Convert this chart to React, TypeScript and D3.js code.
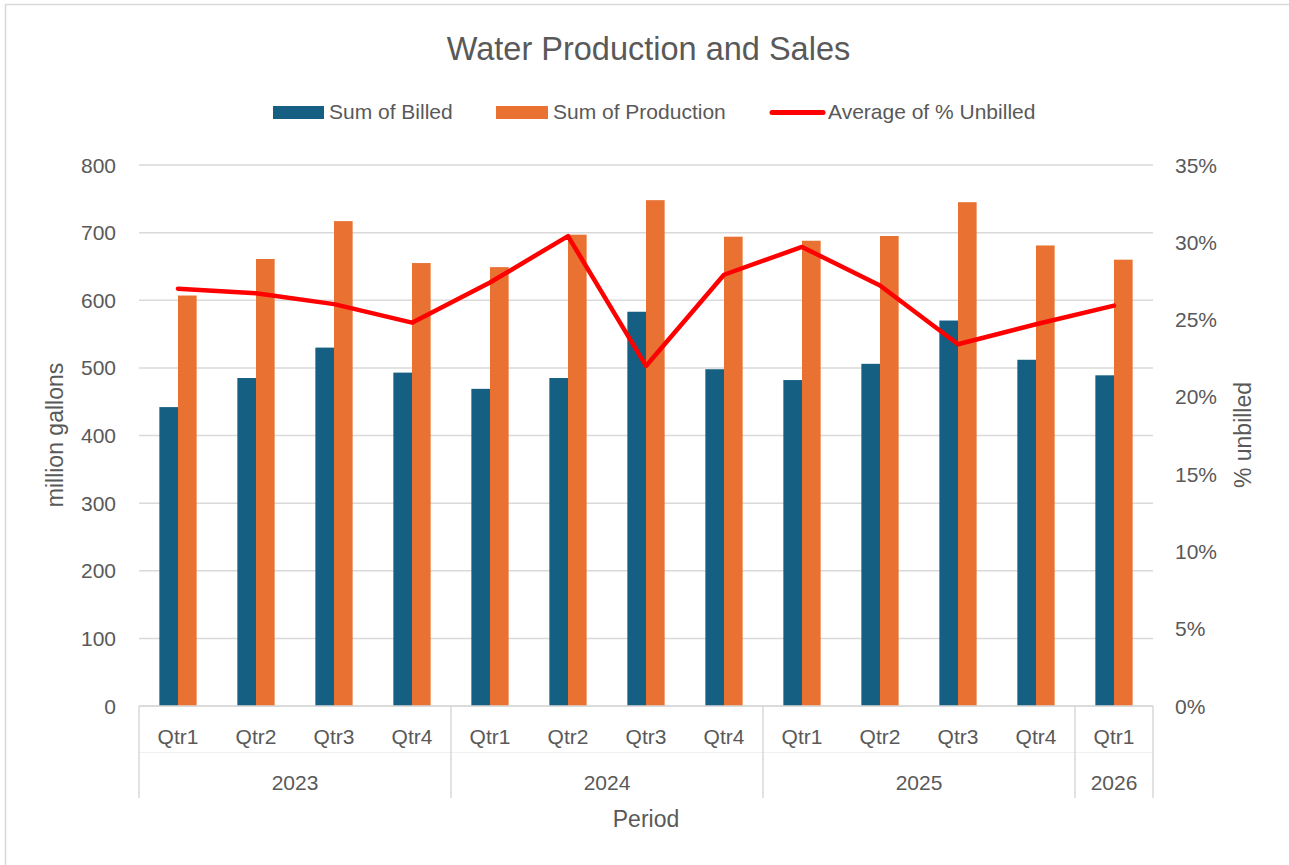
import { useEffect, useRef } from 'react';
import * as d3 from 'd3';

const quarters = ['Qtr1', 'Qtr2', 'Qtr3', 'Qtr4', 'Qtr1', 'Qtr2', 'Qtr3', 'Qtr4', 'Qtr1', 'Qtr2', 'Qtr3', 'Qtr4', 'Qtr1'];
const years = ['2023', '2024', '2025', '2026'];
const quartersPerYear = [4, 4, 4, 1];
const billed = [442, 485, 530, 493, 469, 485, 583, 498, 482, 506, 570, 512, 489];
const production = [607, 661, 717, 655, 649, 697, 748, 694, 688, 695, 745, 681, 660];
const unbilledPct = [27.0, 26.7, 26.0, 24.8, 27.4, 30.4, 22.0, 27.9, 29.7, 27.2, 23.4, 24.7, 25.9];
const leftTicks = [0, 100, 200, 300, 400, 500, 600, 700, 800];
const rightTicks = [0, 5, 10, 15, 20, 25, 30, 35];

const BLUE = '#156082';
const ORANGE = '#E97132';
const RED = '#FF0000';
const TEXT = '#595959';
const GRID = '#d9d9d9';
const FONT = '"Liberation Sans", Arial, sans-serif';

export default function App() {
  const svgRef = useRef<SVGSVGElement>(null);

  useEffect(() => {
    if (!svgRef.current) return;
    const svg = d3.select(svgRef.current);
    svg.selectAll('*').remove();

    const W = 1289;
    const H = 865;
    const left = 139;
    const right = 1153;
    const top = 165;
    const bottom = 706;

    svg.attr('width', W).attr('height', H).style('font-family', FONT);

    // chart border
    svg.append('rect')
      .attr('x', 5.5).attr('y', 4.5)
      .attr('width', 1300).attr('height', 900)
      .attr('fill', '#fff')
      .attr('stroke', GRID).attr('stroke-width', 1.5);

    const idx = quarters.map((_, i) => i);
    const x = d3.scaleBand<number>()
      .domain(idx)
      .range([left, right])
      .paddingInner(0.522)
      .paddingOuter(0.261);
    const xSub = d3.scaleBand<string>()
      .domain(['billed', 'production'])
      .range([0, x.bandwidth()]);
    const y = d3.scaleLinear().domain([0, 800]).range([bottom, top]);
    const y2 = d3.scaleLinear().domain([0, 35]).range([bottom, top]);

    // gridlines
    svg.append('g')
      .selectAll('line')
      .data(leftTicks)
      .enter()
      .append('line')
      .attr('x1', left).attr('x2', right)
      .attr('y1', d => y(d)).attr('y2', d => y(d))
      .attr('stroke', GRID).attr('stroke-width', 1.5);

    // left tick labels
    svg.append('g')
      .selectAll('text')
      .data(leftTicks)
      .enter()
      .append('text')
      .attr('x', 116)
      .attr('y', d => y(d))
      .attr('dy', '0.36em')
      .attr('text-anchor', 'end')
      .attr('font-size', 21)
      .attr('fill', TEXT)
      .text(d => d);

    // right tick labels
    svg.append('g')
      .selectAll('text')
      .data(rightTicks)
      .enter()
      .append('text')
      .attr('x', 1175)
      .attr('y', d => y2(d))
      .attr('dy', '0.36em')
      .attr('text-anchor', 'start')
      .attr('font-size', 21)
      .attr('fill', TEXT)
      .text(d => `${d}%`);

    // bars
    const groups = svg.append('g')
      .selectAll('g')
      .data(idx)
      .enter()
      .append('g')
      .attr('transform', i => `translate(${x(i)},0)`);

    groups.append('rect')
      .attr('x', xSub('billed')!)
      .attr('width', xSub.bandwidth())
      .attr('y', i => y(billed[i]))
      .attr('height', i => bottom - y(billed[i]))
      .attr('fill', BLUE);

    groups.append('rect')
      .attr('x', xSub('production')!)
      .attr('width', xSub.bandwidth())
      .attr('y', i => y(production[i]))
      .attr('height', i => bottom - y(production[i]))
      .attr('fill', ORANGE);

    // category axis
    const axis = svg.append('g');
    axis.append('line')
      .attr('x1', left).attr('x2', right)
      .attr('y1', bottom).attr('y2', bottom)
      .attr('stroke', GRID).attr('stroke-width', 1.5);
    axis.append('line')
      .attr('x1', left).attr('x2', right)
      .attr('y1', 752.5).attr('y2', 752.5)
      .attr('stroke', '#f0f0f0').attr('stroke-width', 1);

    const bounds: number[] = [0];
    quartersPerYear.forEach(n => bounds.push(bounds[bounds.length - 1] + n));
    const step = x.step();
    const edge = (k: number) => left + k * step;

    axis.selectAll('.divider')
      .data(bounds)
      .enter()
      .append('line')
      .attr('class', 'divider')
      .attr('x1', d => edge(d)).attr('x2', d => edge(d))
      .attr('y1', bottom).attr('y2', 798)
      .attr('stroke', GRID).attr('stroke-width', 1.5);

    axis.selectAll('.qtr')
      .data(idx)
      .enter()
      .append('text')
      .attr('class', 'qtr')
      .attr('x', i => x(i)! + x.bandwidth() / 2)
      .attr('y', 744)
      .attr('text-anchor', 'middle')
      .attr('font-size', 21)
      .attr('fill', TEXT)
      .text(i => quarters[i]);

    axis.selectAll('.year')
      .data(years)
      .enter()
      .append('text')
      .attr('class', 'year')
      .attr('x', (_, k) => (edge(bounds[k]) + edge(bounds[k + 1])) / 2)
      .attr('y', 790)
      .attr('text-anchor', 'middle')
      .attr('font-size', 21)
      .attr('fill', TEXT)
      .text(d => d);

    // % unbilled line
    const line = d3.line<number>()
      .x(i => x(i)! + x.bandwidth() / 2)
      .y(i => y2(unbilledPct[i]));
    svg.append('path')
      .datum(idx)
      .attr('d', line)
      .attr('fill', 'none')
      .attr('stroke', RED)
      .attr('stroke-width', 4.5)
      .attr('stroke-linejoin', 'round')
      .attr('stroke-linecap', 'round');

    // title
    svg.append('text')
      .attr('x', 648.5).attr('y', 60)
      .attr('text-anchor', 'middle')
      .attr('font-size', 32.5)
      .attr('fill', TEXT)
      .text('Water Production and Sales');

    // axis titles
    svg.append('text')
      .attr('transform', 'translate(63,435) rotate(-90)')
      .attr('text-anchor', 'middle')
      .attr('font-size', 23)
      .attr('fill', TEXT)
      .text('million gallons');
    svg.append('text')
      .attr('transform', 'translate(1251,435) rotate(-90)')
      .attr('text-anchor', 'middle')
      .attr('font-size', 23)
      .attr('fill', TEXT)
      .text('% unbilled');
    svg.append('text')
      .attr('x', 646).attr('y', 827)
      .attr('text-anchor', 'middle')
      .attr('font-size', 23)
      .attr('fill', TEXT)
      .text('Period');

    // legend
    const legend = svg.append('g').attr('font-size', 21).attr('fill', TEXT);
    legend.append('rect').attr('x', 273).attr('y', 106).attr('width', 51).attr('height', 13).attr('fill', BLUE);
    legend.append('text').attr('x', 329).attr('y', 119).text('Sum of Billed');
    legend.append('rect').attr('x', 496).attr('y', 106).attr('width', 52).attr('height', 13).attr('fill', ORANGE);
    legend.append('text').attr('x', 553).attr('y', 119).text('Sum of Production');
    legend.append('line')
      .attr('x1', 772).attr('x2', 823).attr('y1', 112.5).attr('y2', 112.5)
      .attr('stroke', RED).attr('stroke-width', 5).attr('stroke-linecap', 'round');
    legend.append('text').attr('x', 828).attr('y', 119).text('Average of % Unbilled');
  }, []);

  return (
    <div style={{ position: 'fixed', left: 0, top: 0 }}>
      <svg ref={svgRef} style={{ display: 'block' }} />
    </div>
  );
}
